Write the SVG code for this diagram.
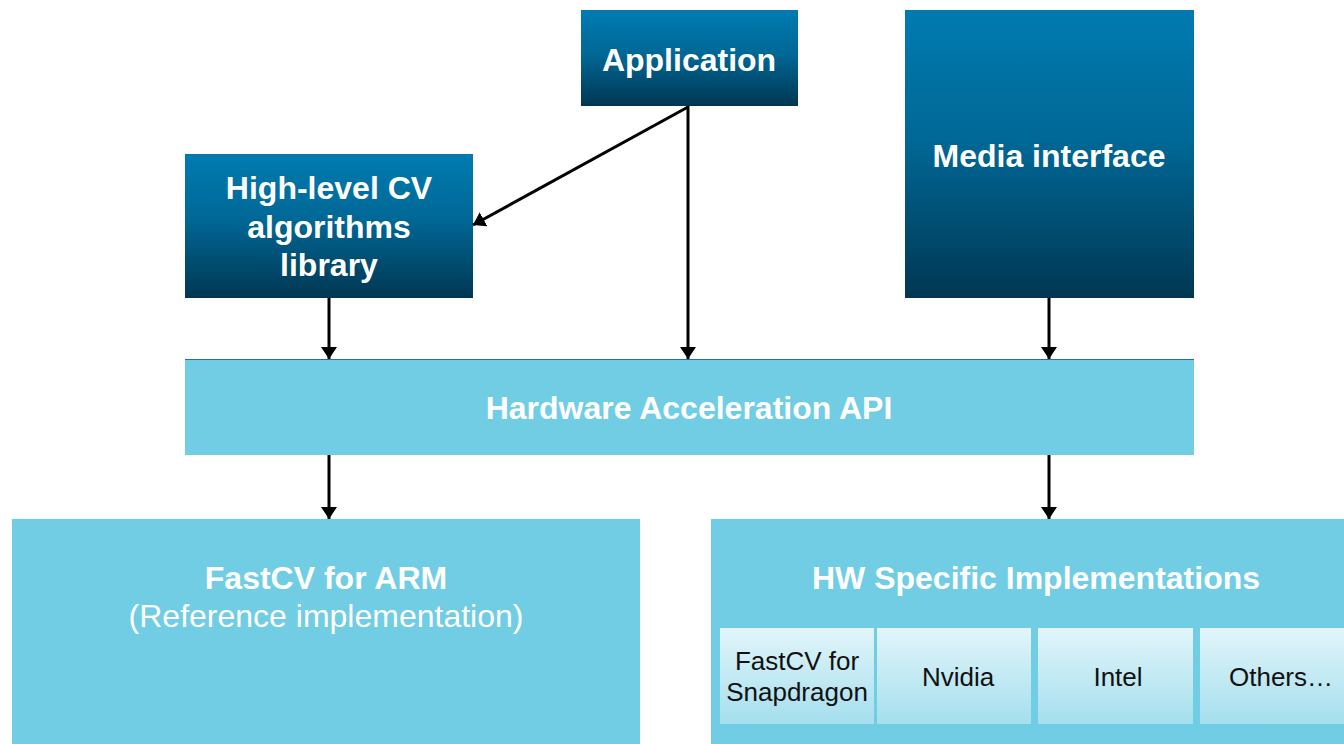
<svg xmlns="http://www.w3.org/2000/svg" width="1344" height="744" viewBox="0 0 1344 744">
<style>
.dark{fill:url(#gDark)}
.light{fill:#71cde4}
.sub{fill:url(#gSub)}
.tb{font-family:"Liberation Sans",Arial,sans-serif;font-weight:bold;font-size:32px;fill:#ffffff;text-anchor:middle}
.tr{font-family:"Liberation Sans",Arial,sans-serif;font-size:32px;fill:#ffffff;text-anchor:middle}
.ts{font-family:"Liberation Sans",Arial,sans-serif;font-size:26px;fill:#111111;text-anchor:middle}
.conn{stroke:#000000;stroke-width:3;fill:none;marker-end:url(#ah)}
</style>
<defs>
<linearGradient id="gDark" x1="0" y1="0" x2="0" y2="1">
<stop offset="0" stop-color="#007bb1"/>
<stop offset="0.45" stop-color="#006896"/>
<stop offset="1" stop-color="#003752"/>
</linearGradient>
<linearGradient id="gSub" x1="0" y1="0" x2="0" y2="1">
<stop offset="0" stop-color="#e2f5fa"/>
<stop offset="1" stop-color="#a4dfed"/>
</linearGradient>
<marker id="ah" viewBox="0 0 12 16" refX="12" refY="8" markerWidth="12" markerHeight="16" markerUnits="userSpaceOnUse" orient="auto">
<path d="M0,0 L12,8 L0,16 Z" fill="#000000"/>
</marker>
</defs>
<rect width="1344" height="744" fill="#ffffff"/>

<g id="application">
<rect class="dark" x="581" y="10" width="217" height="96"/>
<text class="tb" x="689" y="71">Application</text>
</g>
<g id="highlevel">
<rect class="dark" x="185" y="154" width="288" height="144"/>
<text class="tb" x="329" y="199">High-level CV</text>
<text class="tb" x="329" y="238">algorithms</text>
<text class="tb" x="329" y="276">library</text>
</g>
<g id="media">
<rect class="dark" x="905" y="10" width="289" height="288"/>
<text class="tb" x="1049" y="167">Media interface</text>
</g>
<g id="hwapi">
<rect class="light" x="185" y="359" width="1009" height="96"/>
<line x1="185" y1="359.5" x2="1194" y2="359.5" stroke="#2a6f98" stroke-width="1"/>
<text class="tb" x="689" y="419">Hardware Acceleration API</text>
</g>
<g id="fastcvarm">
<rect class="light" x="12" y="519" width="628" height="225"/>
<text class="tb" x="326" y="589">FastCV for ARM</text>
<text class="tr" x="326" y="627">(Reference implementation)</text>
</g>
<g id="hwspecific">
<rect class="light" x="711" y="519" width="650" height="225"/>
<text class="tb" x="1036" y="589">HW Specific Implementations</text>
</g>
<g id="snapdragon">
<rect class="sub" x="720" y="628" width="154" height="96"/>
<text class="ts" x="797" y="670">FastCV for</text>
<text class="ts" x="797" y="701">Snapdragon</text>
</g>
<g id="nvidia">
<rect class="sub" x="877" y="628" width="154" height="96"/>
<text class="ts" x="958" y="686">Nvidia</text>
</g>
<g id="intel">
<rect class="sub" x="1038" y="628" width="155" height="96"/>
<text class="ts" x="1118" y="686">Intel</text>
</g>
<g id="others">
<rect class="sub" x="1200" y="628" width="160" height="96"/>
<text class="ts" x="1281" y="686">Others…</text>
</g>

<g id="connectors">
<line class="conn" x1="688" y1="107" x2="473" y2="225"/>
<line class="conn" x1="688" y1="106" x2="688" y2="359"/>
<line class="conn" x1="329" y1="298" x2="329" y2="359"/>
<line class="conn" x1="1049" y1="298" x2="1049" y2="359"/>
<line class="conn" x1="329" y1="455" x2="329" y2="519"/>
<line class="conn" x1="1049" y1="455" x2="1049" y2="519"/>
</g>
</svg>
